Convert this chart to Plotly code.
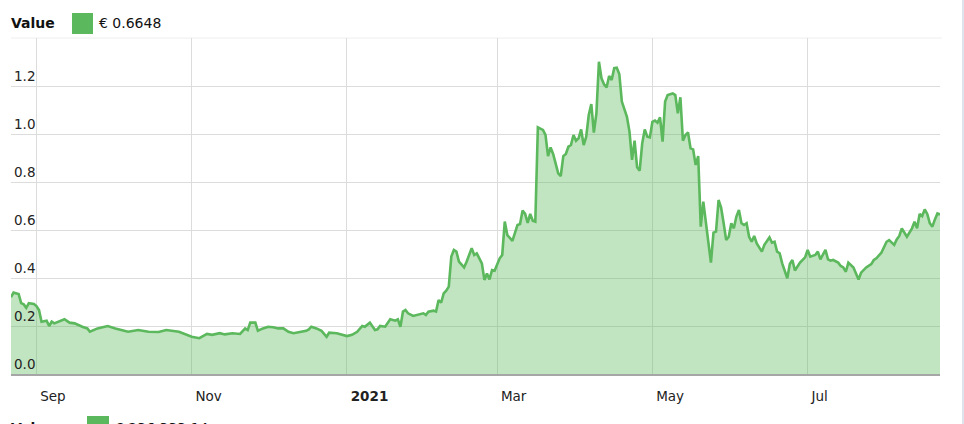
import plotly.graph_objects as go

dates = [
    "2020-08-22", "2020-08-23", "2020-08-25", "2020-08-26", "2020-08-27", "2020-08-28", "2020-08-29", "2020-08-31",
    "2020-09-01", "2020-09-02", "2020-09-03", "2020-09-05", "2020-09-06", "2020-09-07", "2020-09-08", "2020-09-10",
    "2020-09-12", "2020-09-14", "2020-09-16", "2020-09-19", "2020-09-21", "2020-09-22", "2020-09-24", "2020-09-25",
    "2020-09-27", "2020-09-29",
    "2020-10-02", "2020-10-07", "2020-10-11", "2020-10-15", "2020-10-19", "2020-10-22", "2020-10-27", "2020-10-30",
    "2020-11-01", "2020-11-04", "2020-11-06", "2020-11-07", "2020-11-09", "2020-11-12", "2020-11-14", "2020-11-17",
    "2020-11-20", "2020-11-22", "2020-11-23", "2020-11-24", "2020-11-26", "2020-11-27", "2020-11-29",
    "2020-12-01", "2020-12-03", "2020-12-05", "2020-12-07", "2020-12-09", "2020-12-11", "2020-12-13", "2020-12-16",
    "2020-12-17", "2020-12-18", "2020-12-20", "2020-12-22", "2020-12-24", "2020-12-25", "2020-12-28", "2020-12-30",
    "2021-01-01", "2021-01-03", "2021-01-05", "2021-01-07", "2021-01-08", "2021-01-10", "2021-01-11", "2021-01-12",
    "2021-01-13", "2021-01-14", "2021-01-16", "2021-01-17", "2021-01-18", "2021-01-20", "2021-01-21", "2021-01-22",
    "2021-01-23", "2021-01-24", "2021-01-25", "2021-01-27", "2021-01-29", "2021-01-31",
    "2021-02-01", "2021-02-02", "2021-02-04", "2021-02-05", "2021-02-06", "2021-02-07", "2021-02-08", "2021-02-09",
    "2021-02-10", "2021-02-11", "2021-02-12", "2021-02-13", "2021-02-14", "2021-02-16", "2021-02-17", "2021-02-19",
    "2021-02-20", "2021-02-21", "2021-02-23", "2021-02-24", "2021-02-25", "2021-02-26", "2021-02-27", "2021-02-28",
    "2021-03-02", "2021-03-03", "2021-03-04", "2021-03-05", "2021-03-07", "2021-03-08", "2021-03-09", "2021-03-10",
    "2021-03-11", "2021-03-12", "2021-03-13", "2021-03-14", "2021-03-15", "2021-03-16", "2021-03-17", "2021-03-19",
    "2021-03-20", "2021-03-21", "2021-03-22", "2021-03-23", "2021-03-24", "2021-03-25", "2021-03-26", "2021-03-27",
    "2021-03-28", "2021-03-29", "2021-03-30", "2021-03-31",
    "2021-04-01", "2021-04-02", "2021-04-03", "2021-04-04", "2021-04-05", "2021-04-06", "2021-04-07", "2021-04-08",
    "2021-04-09", "2021-04-10", "2021-04-11", "2021-04-12", "2021-04-13", "2021-04-14", "2021-04-15", "2021-04-16",
    "2021-04-17", "2021-04-18", "2021-04-19", "2021-04-21", "2021-04-22", "2021-04-23", "2021-04-24", "2021-04-25",
    "2021-04-26", "2021-04-27", "2021-04-28", "2021-04-29", "2021-04-30",
    "2021-05-01", "2021-05-02", "2021-05-03", "2021-05-04", "2021-05-05", "2021-05-06", "2021-05-07", "2021-05-09",
    "2021-05-10", "2021-05-11", "2021-05-12", "2021-05-13", "2021-05-14", "2021-05-15", "2021-05-16", "2021-05-17",
    "2021-05-18", "2021-05-19", "2021-05-20", "2021-05-21", "2021-05-22", "2021-05-23", "2021-05-24", "2021-05-25",
    "2021-05-26", "2021-05-27", "2021-05-28", "2021-05-29", "2021-05-30", "2021-05-31",
    "2021-06-01", "2021-06-02", "2021-06-03", "2021-06-04", "2021-06-05", "2021-06-06", "2021-06-07", "2021-06-08",
    "2021-06-09", "2021-06-10", "2021-06-11", "2021-06-13", "2021-06-14", "2021-06-16", "2021-06-17", "2021-06-18",
    "2021-06-19", "2021-06-20", "2021-06-21", "2021-06-23", "2021-06-24", "2021-06-25", "2021-06-26", "2021-06-28",
    "2021-06-30",
    "2021-07-01", "2021-07-02", "2021-07-04", "2021-07-05", "2021-07-06", "2021-07-08", "2021-07-09", "2021-07-10",
    "2021-07-11", "2021-07-13", "2021-07-14", "2021-07-15", "2021-07-16", "2021-07-17", "2021-07-19", "2021-07-20",
    "2021-07-21", "2021-07-22", "2021-07-24", "2021-07-26", "2021-07-27", "2021-07-28", "2021-07-30",
    "2021-08-01", "2021-08-02", "2021-08-04", "2021-08-05", "2021-08-06", "2021-08-07", "2021-08-09", "2021-08-11",
    "2021-08-12", "2021-08-13", "2021-08-14", "2021-08-15", "2021-08-16", "2021-08-17", "2021-08-18", "2021-08-19",
    "2021-08-20", "2021-08-21", "2021-08-22",
]

values = [
    0.320, 0.339, 0.333, 0.295, 0.290, 0.276, 0.295, 0.292,
    0.283, 0.267, 0.218, 0.222, 0.200, 0.218, 0.211, 0.218,
    0.228, 0.214, 0.211, 0.197, 0.190, 0.176, 0.186, 0.190,
    0.195, 0.200,
    0.190, 0.176, 0.183, 0.176, 0.175, 0.183, 0.176, 0.163,
    0.155, 0.149, 0.163, 0.167, 0.163, 0.170, 0.165, 0.170,
    0.167, 0.190, 0.183, 0.214, 0.214, 0.180, 0.190,
    0.197, 0.195, 0.190, 0.190, 0.176, 0.170, 0.174, 0.180,
    0.186, 0.197, 0.190, 0.180, 0.155, 0.172, 0.170, 0.163,
    0.158, 0.163, 0.176, 0.200, 0.197, 0.214, 0.197, 0.183,
    0.186, 0.200, 0.197, 0.214, 0.228, 0.222, 0.228, 0.197,
    0.260, 0.267, 0.253, 0.242, 0.246, 0.253,
    0.246, 0.260, 0.264, 0.260, 0.308, 0.297, 0.336, 0.347,
    0.364, 0.489, 0.517, 0.510, 0.468, 0.444, 0.468, 0.524,
    0.496, 0.503, 0.461, 0.392, 0.419, 0.394, 0.433, 0.430,
    0.482, 0.496, 0.635, 0.579, 0.555, 0.586, 0.621, 0.625,
    0.681, 0.667, 0.630, 0.667, 0.639, 0.635, 1.028, 1.017,
    0.996, 0.908, 0.944, 0.917, 0.878, 0.836, 0.825, 0.908,
    0.917, 0.947, 0.954, 0.996,
    0.972, 0.982, 1.019, 0.954, 0.989, 1.079, 1.125, 1.006,
    1.086, 1.301, 1.232, 1.207, 1.194, 1.242, 1.225, 1.274,
    1.276, 1.250, 1.135, 1.072, 1.010, 0.892, 0.972, 0.861,
    0.847, 0.961, 1.019, 0.989, 0.986,
    1.051, 1.056, 1.047, 1.069, 0.968, 1.135, 1.162, 1.169,
    1.162, 1.086, 1.153, 0.972, 0.996, 1.006, 0.940, 0.936,
    0.871, 0.908, 0.614, 0.718, 0.628, 0.544, 0.464, 0.589,
    0.593, 0.725, 0.693, 0.628, 0.558, 0.572,
    0.628, 0.607, 0.656, 0.683, 0.628, 0.621, 0.628, 0.572,
    0.551, 0.575, 0.544, 0.510, 0.538, 0.569, 0.547, 0.551,
    0.510, 0.503, 0.461, 0.399, 0.458, 0.475, 0.431, 0.464,
    0.486,
    0.517, 0.489, 0.496, 0.510, 0.478, 0.517, 0.478, 0.472,
    0.475, 0.464, 0.450, 0.444, 0.426, 0.464, 0.444, 0.419,
    0.394, 0.422, 0.444, 0.458, 0.475, 0.482, 0.506,
    0.551, 0.558, 0.538, 0.561, 0.575, 0.607, 0.572, 0.607,
    0.635, 0.607, 0.667, 0.658, 0.686, 0.667, 0.628, 0.614,
    0.644, 0.669, 0.6648,
]

x_tick_vals = ["2020-09-01", "2020-11-01", "2021-01-01", "2021-03-01", "2021-05-01", "2021-07-01"]
x_tick_text = ["Sep", "Nov", "<b>2021</b>", "Mar", "May", "Jul"]
y_tick_vals = [0.0, 0.2, 0.4, 0.6, 0.8, 1.0, 1.2]
y_tick_text = ["0.0", "0.2", "0.4", "0.6", "0.8", "1.0", "1.2"]

series_name = "Value"
current_value_text = "€ 0.6648"
volume_value_text = "€ 236,333.14"

GREEN = "#5cb85c"
FONT = "DejaVu Sans, Verdana, sans-serif"

fig = go.Figure()
fig.add_trace(go.Scatter(
    x=dates, y=values, mode="lines", name=series_name,
    line=dict(color=GREEN, width=2.6),
    fill="tozeroy", fillcolor="rgba(92,184,92,0.38)",
    hoverinfo="x+y",
))

fig.update_layout(
    width=964, height=424,
    margin=dict(l=11, r=24, t=38, b=50),
    paper_bgcolor="white", plot_bgcolor="white",
    showlegend=False,
    font=dict(family=FONT, size=13.5, color="#222"),
    xaxis=dict(
        type="date",
        range=["2020-08-22", "2021-08-22"],
        tickvals=x_tick_vals, ticktext=x_tick_text,
        ticklabelposition="outside right",
        ticklabelshift=3, ticklabelstandoff=9,
        showgrid=True, gridcolor="#dcdcdc", gridwidth=1,
        showline=True, linecolor="#a6a6a6", linewidth=1.5,
        ticks="", zeroline=False,
        tickfont=dict(family=FONT, size=13.5, color="#222"),
    ),
    yaxis=dict(
        range=[0, 1.4],
        tickvals=y_tick_vals, ticktext=y_tick_text,
        ticklabelposition="inside top",
        showgrid=True, gridcolor="#dcdcdc", gridwidth=1,
        zeroline=False, showline=False, ticks="",
        tickfont=dict(family=FONT, size=13.5, color="#222"),
    ),
)

# faint top border line of the plot area
fig.add_shape(type="line", xref="paper", yref="paper", x0=0, x1=1.002, y0=1, y1=1,
              line=dict(color="#eeeeee", width=1), layer="below")

# top legend: label, swatch and current value
fig.add_annotation(text="<b>" + series_name + "</b>", xref="paper", yref="paper", x=0, y=1,
                   xanchor="left", yanchor="middle", xshift=-2, yshift=15, showarrow=False,
                   font=dict(family=FONT, size=14, color="#111"))
fig.add_shape(type="rect", xref="paper", yref="paper", xsizemode="pixel", ysizemode="pixel",
              xanchor=0, yanchor=1, x0=61, x1=82, y0=4, y1=25,
              fillcolor=GREEN, line=dict(width=0))
fig.add_annotation(text=current_value_text, xref="paper", yref="paper", x=0, y=1,
                   xanchor="left", yanchor="middle", xshift=86, yshift=15, showarrow=False,
                   font=dict(family=FONT, size=14, color="#111"))

# second (volume) legend, cut off at the bottom of the window
fig.add_annotation(text="<b>" + series_name + "</b>", xref="paper", yref="paper", x=0, y=0,
                   xanchor="left", yanchor="middle", xshift=-2, yshift=-54, showarrow=False,
                   font=dict(family=FONT, size=14, color="#111"))
fig.add_shape(type="rect", xref="paper", yref="paper", xsizemode="pixel", ysizemode="pixel",
              xanchor=0, yanchor=0, x0=76, x1=98, y0=-42, y1=-64,
              fillcolor=GREEN, line=dict(width=0))
fig.add_annotation(text=volume_value_text, xref="paper", yref="paper", x=0, y=0,
                   xanchor="left", yanchor="middle", xshift=102, yshift=-54, showarrow=False,
                   font=dict(family=FONT, size=14, color="#111"))

# light strip at the right edge of the window
fig.add_shape(type="rect", xref="paper", yref="paper", xsizemode="pixel", ysizemode="pixel",
              xanchor=1, yanchor=0, x0=22, x1=30, y0=-60, y1=400,
              fillcolor="#dfe4ec", line=dict(width=0), layer="below")

fig.write_html("out.html")
